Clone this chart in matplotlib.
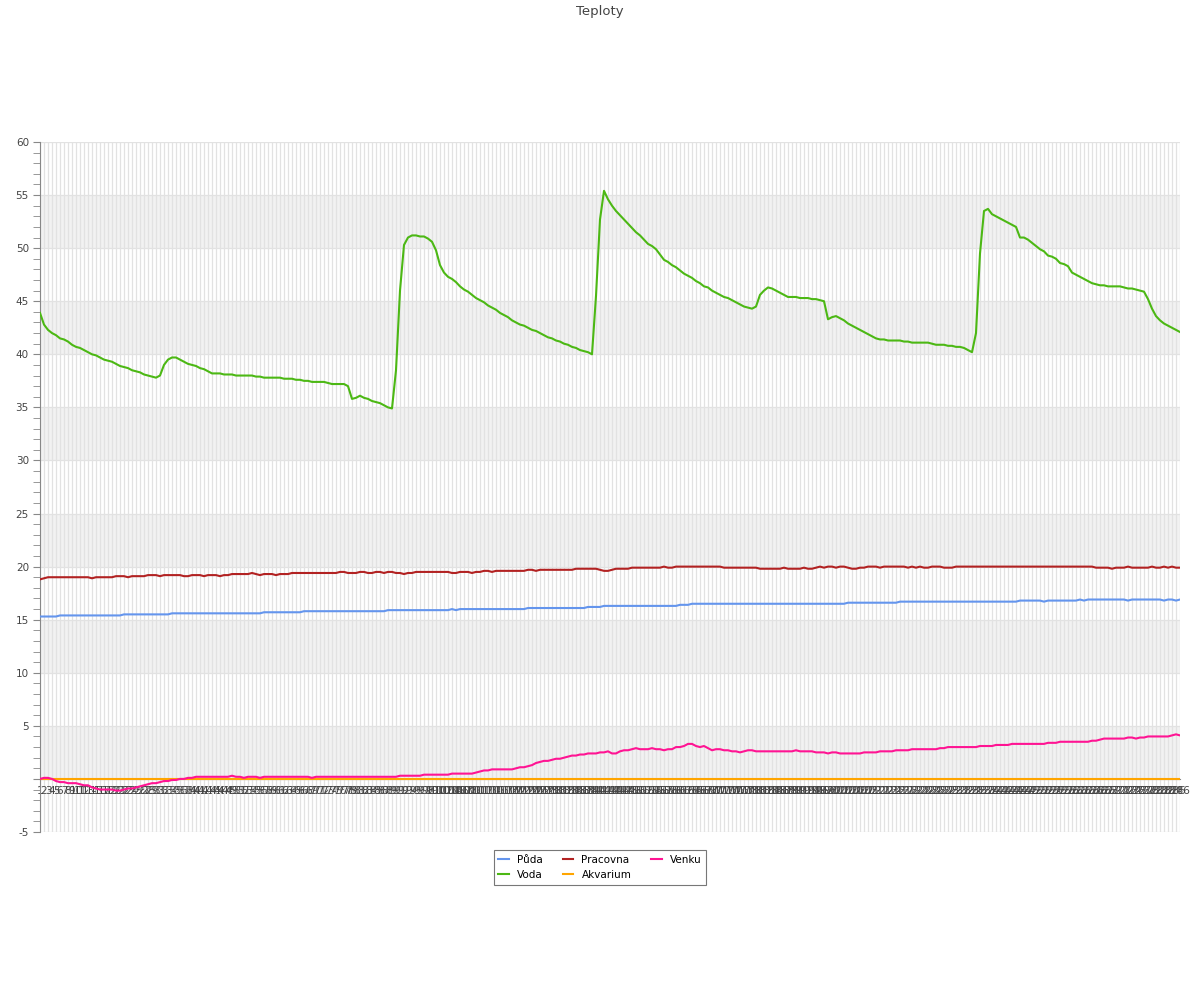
import matplotlib
matplotlib.use("Agg")
import matplotlib.pyplot as plt
from matplotlib.ticker import MultipleLocator, FixedLocator

# one reading per sample, 286 samples
puda = [
    15.3, 15.3, 15.3, 15.3, 15.3, 15.4, 15.4, 15.4, 15.4, 15.4,
    15.4, 15.4, 15.4, 15.4, 15.4, 15.4, 15.4, 15.4, 15.4, 15.4,
    15.4, 15.5, 15.5, 15.5, 15.5, 15.5, 15.5, 15.5, 15.5, 15.5,
    15.5, 15.5, 15.5, 15.6, 15.6, 15.6, 15.6, 15.6, 15.6, 15.6,
    15.6, 15.6, 15.6, 15.6, 15.6, 15.6, 15.6, 15.6, 15.6, 15.6,
    15.6, 15.6, 15.6, 15.6, 15.6, 15.6, 15.7, 15.7, 15.7, 15.7,
    15.7, 15.7, 15.7, 15.7, 15.7, 15.7, 15.8, 15.8, 15.8, 15.8,
    15.8, 15.8, 15.8, 15.8, 15.8, 15.8, 15.8, 15.8, 15.8, 15.8,
    15.8, 15.8, 15.8, 15.8, 15.8, 15.8, 15.8, 15.9, 15.9, 15.9,
    15.9, 15.9, 15.9, 15.9, 15.9, 15.9, 15.9, 15.9, 15.9, 15.9,
    15.9, 15.9, 15.9, 16.0, 15.9, 16.0, 16.0, 16.0, 16.0, 16.0,
    16.0, 16.0, 16.0, 16.0, 16.0, 16.0, 16.0, 16.0, 16.0, 16.0,
    16.0, 16.0, 16.1, 16.1, 16.1, 16.1, 16.1, 16.1, 16.1, 16.1,
    16.1, 16.1, 16.1, 16.1, 16.1, 16.1, 16.1, 16.2, 16.2, 16.2,
    16.2, 16.3, 16.3, 16.3, 16.3, 16.3, 16.3, 16.3, 16.3, 16.3,
    16.3, 16.3, 16.3, 16.3, 16.3, 16.3, 16.3, 16.3, 16.3, 16.3,
    16.4, 16.4, 16.4, 16.5, 16.5, 16.5, 16.5, 16.5, 16.5, 16.5,
    16.5, 16.5, 16.5, 16.5, 16.5, 16.5, 16.5, 16.5, 16.5, 16.5,
    16.5, 16.5, 16.5, 16.5, 16.5, 16.5, 16.5, 16.5, 16.5, 16.5,
    16.5, 16.5, 16.5, 16.5, 16.5, 16.5, 16.5, 16.5, 16.5, 16.5,
    16.5, 16.5, 16.6, 16.6, 16.6, 16.6, 16.6, 16.6, 16.6, 16.6,
    16.6, 16.6, 16.6, 16.6, 16.6, 16.7, 16.7, 16.7, 16.7, 16.7,
    16.7, 16.7, 16.7, 16.7, 16.7, 16.7, 16.7, 16.7, 16.7, 16.7,
    16.7, 16.7, 16.7, 16.7, 16.7, 16.7, 16.7, 16.7, 16.7, 16.7,
    16.7, 16.7, 16.7, 16.7, 16.7, 16.8, 16.8, 16.8, 16.8, 16.8,
    16.8, 16.7, 16.8, 16.8, 16.8, 16.8, 16.8, 16.8, 16.8, 16.8,
    16.9, 16.8, 16.9, 16.9, 16.9, 16.9, 16.9, 16.9, 16.9, 16.9,
    16.9, 16.9, 16.8, 16.9, 16.9, 16.9, 16.9, 16.9, 16.9, 16.9,
    16.9, 16.8, 16.9, 16.9, 16.8, 16.9,
]

voda = [
    43.9, 42.8, 42.3, 42.0, 41.8, 41.5, 41.4, 41.2, 40.9, 40.7,
    40.6, 40.4, 40.2, 40.0, 39.9, 39.7, 39.5, 39.4, 39.3, 39.1,
    38.9, 38.8, 38.7, 38.5, 38.4, 38.3, 38.1, 38.0, 37.9, 37.8,
    38.0, 39.0, 39.5, 39.7, 39.7, 39.5, 39.3, 39.1, 39.0, 38.9,
    38.7, 38.6, 38.4, 38.2, 38.2, 38.2, 38.1, 38.1, 38.1, 38.0,
    38.0, 38.0, 38.0, 38.0, 37.9, 37.9, 37.8, 37.8, 37.8, 37.8,
    37.8, 37.7, 37.7, 37.7, 37.6, 37.6, 37.5, 37.5, 37.4, 37.4,
    37.4, 37.4, 37.3, 37.2, 37.2, 37.2, 37.2, 37.0, 35.8, 35.9,
    36.1, 35.9, 35.8, 35.6, 35.5, 35.4, 35.2, 35.0, 34.9, 38.5,
    46.0, 50.3, 51.0, 51.2, 51.2, 51.1, 51.1, 50.9, 50.6, 49.8,
    48.4, 47.7, 47.3, 47.1, 46.8, 46.4, 46.1, 45.9, 45.6, 45.3,
    45.1, 44.9, 44.6, 44.4, 44.2, 43.9, 43.7, 43.5, 43.2, 43.0,
    42.8, 42.7, 42.5, 42.3, 42.2, 42.0, 41.8, 41.6, 41.5, 41.3,
    41.2, 41.0, 40.9, 40.7, 40.6, 40.4, 40.3, 40.2, 40.0, 45.5,
    52.7, 55.4, 54.6, 54.0, 53.5, 53.1, 52.7, 52.3, 51.9, 51.5,
    51.2, 50.8, 50.4, 50.2, 49.9, 49.4, 48.9, 48.7, 48.4, 48.2,
    47.9, 47.6, 47.4, 47.2, 46.9, 46.7, 46.4, 46.3, 46.0, 45.8,
    45.6, 45.4, 45.3, 45.1, 44.9, 44.7, 44.5, 44.4, 44.3, 44.5,
    45.6, 46.0, 46.3, 46.2, 46.0, 45.8, 45.6, 45.4, 45.4, 45.4,
    45.3, 45.3, 45.3, 45.2, 45.2, 45.1, 45.0, 43.3, 43.5, 43.6,
    43.4, 43.2, 42.9, 42.7, 42.5, 42.3, 42.1, 41.9, 41.7, 41.5,
    41.4, 41.4, 41.3, 41.3, 41.3, 41.3, 41.2, 41.2, 41.1, 41.1,
    41.1, 41.1, 41.1, 41.0, 40.9, 40.9, 40.9, 40.8, 40.8, 40.7,
    40.7, 40.6, 40.4, 40.2, 42.0, 49.5, 53.5, 53.7, 53.2, 53.0,
    52.8, 52.6, 52.4, 52.2, 52.0, 51.0, 51.0, 50.8, 50.5, 50.2,
    49.9, 49.7, 49.3, 49.2, 49.0, 48.6, 48.5, 48.3, 47.7, 47.5,
    47.3, 47.1, 46.9, 46.7, 46.6, 46.5, 46.5, 46.4, 46.4, 46.4,
    46.4, 46.3, 46.2, 46.2, 46.1, 46.0, 45.9, 45.2, 44.3, 43.6,
    43.2, 42.9, 42.7, 42.5, 42.3, 42.1,
]

pracovna = [
    18.8, 18.9, 19.0, 19.0, 19.0, 19.0, 19.0, 19.0, 19.0, 19.0,
    19.0, 19.0, 19.0, 18.9, 19.0, 19.0, 19.0, 19.0, 19.0, 19.1,
    19.1, 19.1, 19.0, 19.1, 19.1, 19.1, 19.1, 19.2, 19.2, 19.2,
    19.1, 19.2, 19.2, 19.2, 19.2, 19.2, 19.1, 19.1, 19.2, 19.2,
    19.2, 19.1, 19.2, 19.2, 19.2, 19.1, 19.2, 19.2, 19.3, 19.3,
    19.3, 19.3, 19.3, 19.4, 19.3, 19.2, 19.3, 19.3, 19.3, 19.2,
    19.3, 19.3, 19.3, 19.4, 19.4, 19.4, 19.4, 19.4, 19.4, 19.4,
    19.4, 19.4, 19.4, 19.4, 19.4, 19.5, 19.5, 19.4, 19.4, 19.4,
    19.5, 19.5, 19.4, 19.4, 19.5, 19.5, 19.4, 19.5, 19.5, 19.4,
    19.4, 19.3, 19.4, 19.4, 19.5, 19.5, 19.5, 19.5, 19.5, 19.5,
    19.5, 19.5, 19.5, 19.4, 19.4, 19.5, 19.5, 19.5, 19.4, 19.5,
    19.5, 19.6, 19.6, 19.5, 19.6, 19.6, 19.6, 19.6, 19.6, 19.6,
    19.6, 19.6, 19.7, 19.7, 19.6, 19.7, 19.7, 19.7, 19.7, 19.7,
    19.7, 19.7, 19.7, 19.7, 19.8, 19.8, 19.8, 19.8, 19.8, 19.8,
    19.7, 19.6, 19.6, 19.7, 19.8, 19.8, 19.8, 19.8, 19.9, 19.9,
    19.9, 19.9, 19.9, 19.9, 19.9, 19.9, 20.0, 19.9, 19.9, 20.0,
    20.0, 20.0, 20.0, 20.0, 20.0, 20.0, 20.0, 20.0, 20.0, 20.0,
    20.0, 19.9, 19.9, 19.9, 19.9, 19.9, 19.9, 19.9, 19.9, 19.9,
    19.8, 19.8, 19.8, 19.8, 19.8, 19.8, 19.9, 19.8, 19.8, 19.8,
    19.8, 19.9, 19.8, 19.8, 19.9, 20.0, 19.9, 20.0, 20.0, 19.9,
    20.0, 20.0, 19.9, 19.8, 19.8, 19.9, 19.9, 20.0, 20.0, 20.0,
    19.9, 20.0, 20.0, 20.0, 20.0, 20.0, 20.0, 19.9, 20.0, 19.9,
    20.0, 19.9, 19.9, 20.0, 20.0, 20.0, 19.9, 19.9, 19.9, 20.0,
    20.0, 20.0, 20.0, 20.0, 20.0, 20.0, 20.0, 20.0, 20.0, 20.0,
    20.0, 20.0, 20.0, 20.0, 20.0, 20.0, 20.0, 20.0, 20.0, 20.0,
    20.0, 20.0, 20.0, 20.0, 20.0, 20.0, 20.0, 20.0, 20.0, 20.0,
    20.0, 20.0, 20.0, 20.0, 19.9, 19.9, 19.9, 19.9, 19.8, 19.9,
    19.9, 19.9, 20.0, 19.9, 19.9, 19.9, 19.9, 19.9, 20.0, 19.9,
    19.9, 20.0, 19.9, 20.0, 19.9, 19.9,
]

akvarium = [0.0] * 286

venku = [
    0.0, 0.1, 0.1, 0.0, -0.2, -0.3, -0.3, -0.4, -0.4, -0.4,
    -0.5, -0.6, -0.6, -0.8, -0.9, -1.0, -1.0, -1.0, -1.0, -1.1,
    -1.1, -1.0, -0.9, -0.9, -0.8, -0.7, -0.6, -0.5, -0.4, -0.4,
    -0.3, -0.2, -0.2, -0.1, -0.1, 0.0, 0.0, 0.1, 0.1, 0.2,
    0.2, 0.2, 0.2, 0.2, 0.2, 0.2, 0.2, 0.2, 0.3, 0.2,
    0.2, 0.1, 0.2, 0.2, 0.2, 0.1, 0.2, 0.2, 0.2, 0.2,
    0.2, 0.2, 0.2, 0.2, 0.2, 0.2, 0.2, 0.2, 0.1, 0.2,
    0.2, 0.2, 0.2, 0.2, 0.2, 0.2, 0.2, 0.2, 0.2, 0.2,
    0.2, 0.2, 0.2, 0.2, 0.2, 0.2, 0.2, 0.2, 0.2, 0.2,
    0.3, 0.3, 0.3, 0.3, 0.3, 0.3, 0.4, 0.4, 0.4, 0.4,
    0.4, 0.4, 0.4, 0.5, 0.5, 0.5, 0.5, 0.5, 0.5, 0.6,
    0.7, 0.8, 0.8, 0.9, 0.9, 0.9, 0.9, 0.9, 0.9, 1.0,
    1.1, 1.1, 1.2, 1.3, 1.5, 1.6, 1.7, 1.7, 1.8, 1.9,
    1.9, 2.0, 2.1, 2.2, 2.2, 2.3, 2.3, 2.4, 2.4, 2.4,
    2.5, 2.5, 2.6, 2.4, 2.4, 2.6, 2.7, 2.7, 2.8, 2.9,
    2.8, 2.8, 2.8, 2.9, 2.8, 2.8, 2.7, 2.8, 2.8, 3.0,
    3.0, 3.1, 3.3, 3.3, 3.1, 3.0, 3.1, 2.9, 2.7, 2.8,
    2.8, 2.7, 2.7, 2.6, 2.6, 2.5, 2.6, 2.7, 2.7, 2.6,
    2.6, 2.6, 2.6, 2.6, 2.6, 2.6, 2.6, 2.6, 2.6, 2.7,
    2.6, 2.6, 2.6, 2.6, 2.5, 2.5, 2.5, 2.4, 2.5, 2.5,
    2.4, 2.4, 2.4, 2.4, 2.4, 2.4, 2.5, 2.5, 2.5, 2.5,
    2.6, 2.6, 2.6, 2.6, 2.7, 2.7, 2.7, 2.7, 2.8, 2.8,
    2.8, 2.8, 2.8, 2.8, 2.8, 2.9, 2.9, 3.0, 3.0, 3.0,
    3.0, 3.0, 3.0, 3.0, 3.0, 3.1, 3.1, 3.1, 3.1, 3.2,
    3.2, 3.2, 3.2, 3.3, 3.3, 3.3, 3.3, 3.3, 3.3, 3.3,
    3.3, 3.3, 3.4, 3.4, 3.4, 3.5, 3.5, 3.5, 3.5, 3.5,
    3.5, 3.5, 3.5, 3.6, 3.6, 3.7, 3.8, 3.8, 3.8, 3.8,
    3.8, 3.8, 3.9, 3.9, 3.8, 3.9, 3.9, 4.0, 4.0, 4.0,
    4.0, 4.0, 4.0, 4.1, 4.2, 4.1,
]

x_labels = [str(n) for n in range(1, len(voda) + 1)]

series = [
    ("Půda", puda, "#6495ED"),
    ("Voda", voda, "#4CB814"),
    ("Pracovna", pracovna, "#B22222"),
    ("Akvarium", akvarium, "#FFA500"),
    ("Venku", venku, "#FF1493"),
]

fig = plt.figure(figsize=(12, 10), dpi=100)
ax = fig.add_axes([40 / 1200, 1 - 832 / 1000, 1140 / 1200, 690 / 1000])

xs = list(range(1, len(voda) + 1))

# alternating horizontal bands
for lo in range(0, 60, 10):
    ax.axhspan(lo, lo + 5, color="#f2f2f2", zorder=0, lw=0)

for name, vals, col in series:
    ax.plot(xs, vals, color=col, lw=1.5, label=name, zorder=3)

ax.set_xlim(1, len(voda))
ax.set_ylim(-5, 60)

ax.xaxis.set_major_locator(FixedLocator(xs))
ax.set_xticklabels(x_labels)
ax.yaxis.set_major_locator(MultipleLocator(5))
ax.yaxis.set_minor_locator(MultipleLocator(1))
ax.set_yticklabels(["" if t == 0 else str(int(t)) for t in ax.get_yticks()])

ax.grid(True, which="major", color="#e2e2e2", lw=0.9, zorder=1)
ax.set_axisbelow(True)

for s in ("top", "right"):
    ax.spines[s].set_visible(False)
ax.spines["left"].set_color("#888888")
ax.spines["bottom"].set_position(("data", 0))
ax.spines["bottom"].set_color("#888888")
ax.spines["bottom"].set_zorder(2)

ax.tick_params(axis="x", length=0, pad=5, labelsize=7.5, labelcolor="#444444")
ax.tick_params(axis="y", which="both", direction="out", length=5, color="#888888",
               labelsize=7.5, labelcolor="#444444", pad=3)

fig.suptitle("Teploty", y=0.995, fontsize=9.5, color="#444444")

leg = fig.legend(loc="upper center", bbox_to_anchor=(0.5, 0.155), ncol=3, fontsize=7.5,
                 frameon=True, fancybox=False, edgecolor="#777777", framealpha=1,
                 handlelength=1.0, columnspacing=1.9, borderpad=0.45)
leg.get_frame().set_linewidth(0.8)

fig.savefig("out.png", dpi=100)
